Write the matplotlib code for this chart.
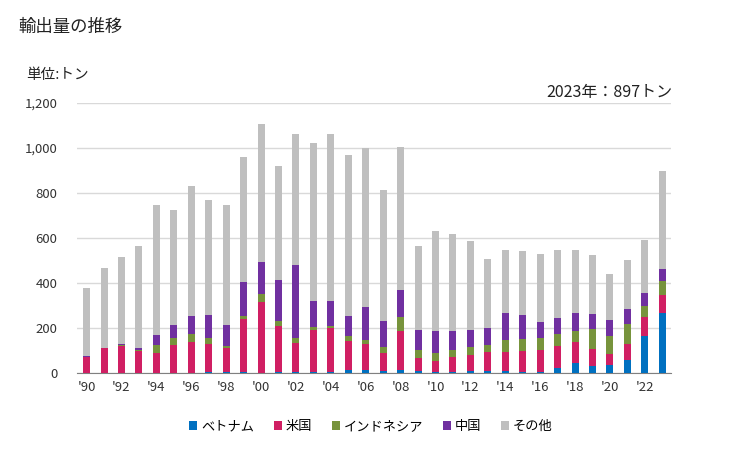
import matplotlib
matplotlib.use("Agg")
import matplotlib.pyplot as plt
import numpy as np

plt.rcParams['font.family'] = ['Noto Sans CJK JP', 'DejaVu Sans']

years = list(range(1990, 2024))
vietnam = [0, 0, 0, 0, 0, 0, 0, 6, 6, 6, 0, 6, 6, 6, 6, 15, 15, 9, 15, 9,
           4, 6, 9, 9, 9, 4, 4, 24, 44, 31, 36, 58, 166, 267]
usa = [70, 111, 120, 98, 89, 124, 138, 123, 105, 234, 316, 203, 127, 185, 194, 127, 114, 80, 172, 58,
       49, 65, 71, 84, 84, 94, 98, 96, 94, 76, 48, 71, 83, 80]
indonesia = [0, 0, 4, 6, 35, 32, 35, 27, 9, 13, 35, 22, 23, 13, 9, 22, 18, 27, 62, 35,
             36, 31, 36, 31, 54, 53, 54, 53, 49, 89, 80, 89, 49, 62]
china = [5, 0, 5, 7, 45, 57, 80, 102, 93, 151, 142, 182, 324, 116, 111, 89, 146, 115, 120, 89,
         98, 85, 75, 76, 120, 107, 71, 71, 80, 66, 73, 66, 58, 53]
other = [302, 356, 387, 453, 578, 511, 578, 511, 534, 556, 614, 507, 582, 702, 742, 716, 707, 582, 635, 373,
         444, 431, 396, 307, 280, 284, 302, 303, 280, 262, 203, 218, 235, 435]

series_names = ['ベトナム', '米国', 'インドネシア', '中国', 'その他']
colors = ['#0070C0', '#D01F63', '#77933C', '#7030A0', '#BFBFBF']

fig = plt.figure(figsize=(7.29, 4.5), dpi=100)
ax = fig.add_axes([0.1056, 0.1711, 0.8148, 0.6])

x = np.arange(len(years))
bottom = np.zeros(len(years))
for name, vals, c in zip(series_names, [vietnam, usa, indonesia, china, other], colors):
    ax.bar(x, vals, 0.4, bottom=bottom, color=c, label=name, zorder=3)
    bottom += np.array(vals)

ax.set_ylim(0, 1200)
ax.set_yticks(np.arange(0, 1201, 200))
ax.set_yticklabels([f'{v:,}' for v in range(0, 1201, 200)], fontsize=9.5, color='#333333')
ax.set_xlim(-0.55, len(years) - 0.5)
ax.set_xticks(x[::2])
ax.set_xticklabels(["'" + str(y)[2:] for y in years[::2]], fontsize=9.5, color='#333333')
ax.tick_params(length=0, pad=6)
ax.tick_params(axis='y', pad=14)
ax.grid(axis='y', color='#D9D9D9', linewidth=1, zorder=0)
for s in ['top', 'right', 'left']:
    ax.spines[s].set_visible(False)
ax.spines['bottom'].set_color('#808080')

fig.text(0.025, 0.94, '輸出量の推移', fontsize=12.5, color='#222222', va='center')
fig.text(0.036, 0.833, '単位:トン', fontsize=10.5, color='#222222', va='center')
fig.text(0.922, 0.795, '2023年：897トン', fontsize=11.5, color='#222222', va='center', ha='right')

ax.legend(loc='upper center', bbox_to_anchor=(0.495, -0.13), ncol=5, frameon=False,
          fontsize=9.5, handlelength=0.6, handleheight=0.6, handletextpad=0.3, columnspacing=1.5)

fig.savefig('out.png', dpi=100)
